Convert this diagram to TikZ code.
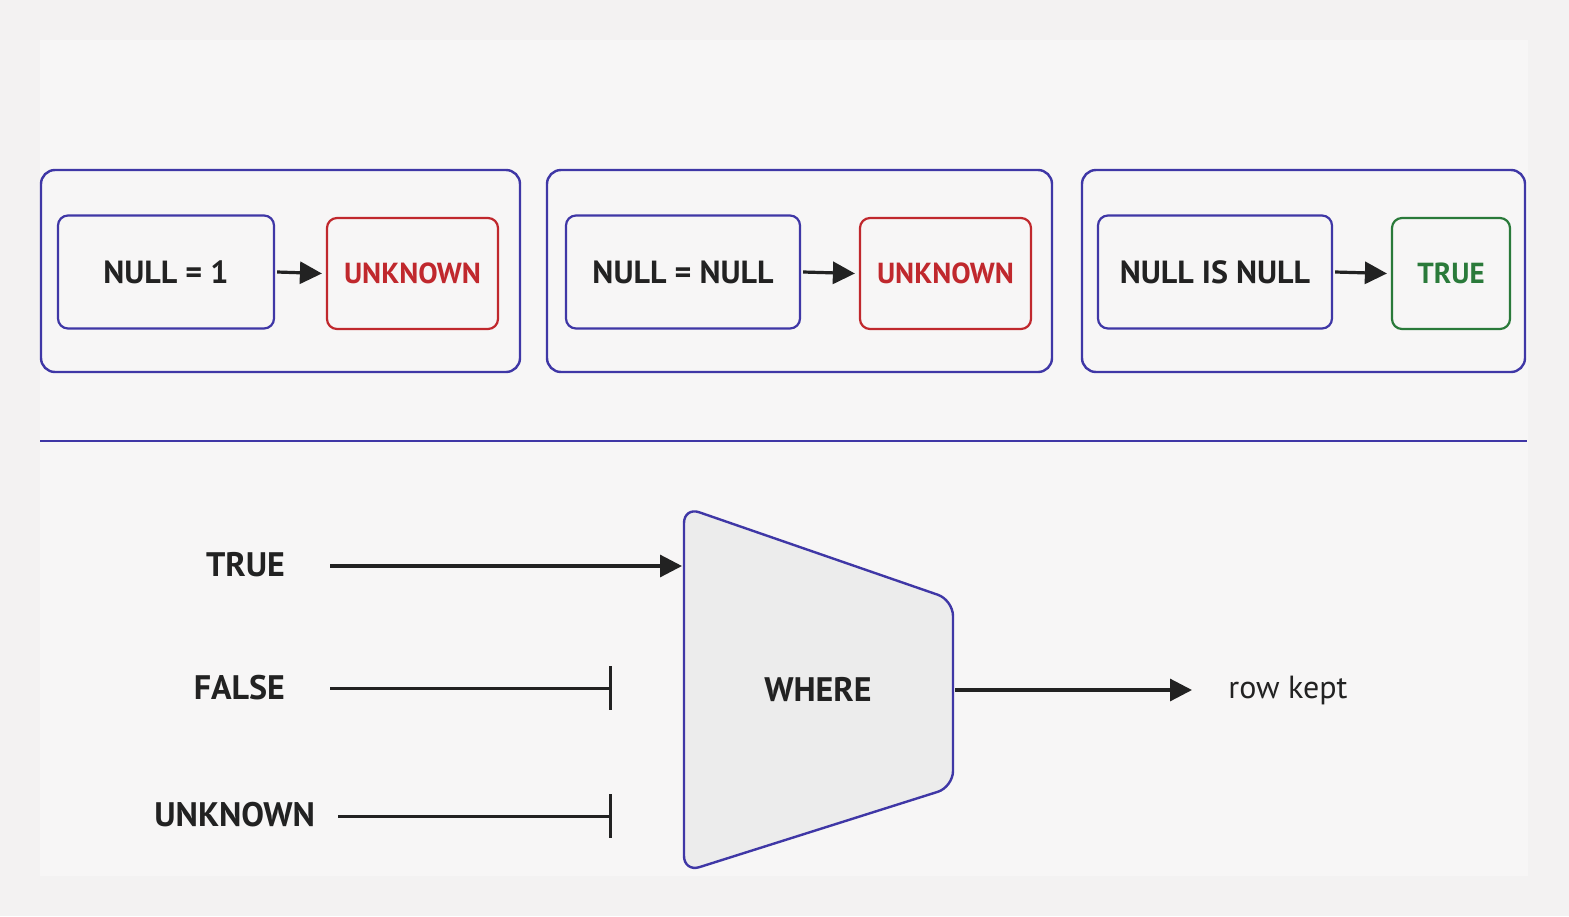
\documentclass[tikz,border=0pt]{standalone}
\usepackage{fontspec}
\setmainfont{PT Sans}
\usetikzlibrary{arrows.meta}
\definecolor{bl}{HTML}{3F37A6}
\definecolor{rd}{HTML}{C0282D}
\definecolor{gn}{HTML}{2A7A3A}
\definecolor{tx}{HTML}{222222}
\begin{document}
\begin{tikzpicture}[x=0.5pt,y=-0.5pt,
  outer/.style={draw=bl,line width=1.2pt,rounded corners=7pt},
  inb/.style={draw=bl,line width=1.1pt,rounded corners=5pt,font=\bfseries\fontsize{16}{20}\selectfont,text=tx},
  res/.style={line width=1.1pt,rounded corners=5pt,font=\bfseries\fontsize{14.5}{20}\selectfont},
  arr/.style={line width=1.6pt,draw=tx,-{Triangle[length=11pt,width=11pt]}},
  blk/.style={line width=1.5pt,draw=tx,-{Bar[width=22pt]}},
  lab/.style={font=\bfseries\fontsize{17}{20}\selectfont,text=tx,anchor=east}]
\fill[fill={rgb,255:red,243;green,242;blue,242}] (0,0) rectangle (1569,916);
\fill[fill={rgb,255:red,247;green,246;blue,246}] (40,40) rectangle (1528,876);
\useasboundingbox (0,0) rectangle (1569,916);
% groups
\draw[outer] (41,170) rectangle (520,372);
\draw[outer] (547,170) rectangle (1052,372);
\draw[outer] (1082,170) rectangle (1525,372);
\node[inb,minimum width=108pt,minimum height=56.5pt] (a1) at (166,272) {NULL = 1};
\node[res,draw=rd,text=rd,minimum width=85.5pt,minimum height=55.5pt] (b1) at (412.5,273.5) {UNKNOWN};
\node[inb,minimum width=117pt,minimum height=56.5pt] (a2) at (683,272) {NULL = NULL};
\node[res,draw=rd,text=rd,minimum width=85.5pt,minimum height=55.5pt] (b2) at (945.5,273.5) {UNKNOWN};
\node[inb,minimum width=117pt,minimum height=56.5pt] (a3) at (1215,272) {NULL IS NULL};
\node[res,draw=gn,text=gn,minimum width=59pt,minimum height=55.5pt] (b3) at (1451,273.5) {TRUE};
\draw[arr] ([xshift=1pt]a1.east) -- ([xshift=-2pt]b1.west);
\draw[arr] ([xshift=1pt]a2.east) -- ([xshift=-2pt]b2.west);
\draw[arr] ([xshift=1pt]a3.east) -- ([xshift=-2pt]b3.west);
\draw[bl,line width=1.1pt] (40,441) -- (1527,441);
% WHERE
\draw[bl,line width=1.2pt,fill={rgb,255:red,236;green,236;blue,236},rounded corners=8pt]
  (684,507) -- (953,600) -- (953,787) -- (684,872) -- cycle;
\node[font=\bfseries\fontsize{17}{20}\selectfont,text=tx] (w) at (818,690) {WHERE};
\coordinate (win) at (682,566);
\coordinate (b1e) at (612,688);
\coordinate (b2e) at (612,816);
\coordinate (wout) at (955,690);
\node[lab] (t) at (292,565) {TRUE};
\node[lab] (f) at (292,688) {FALSE};
\node[lab] (u) at (322,815) {UNKNOWN};
\node[anchor=west,font=\fontsize{16}{20}\selectfont,text=tx,inner sep=0pt] (rk) at (1228,690) {row kept};
\draw[arr] (330,566) -- (win);
\draw[blk] (330,688) -- (b1e);
\draw[blk] (338,816) -- (b2e);
\draw[arr] (wout) -- ([xshift=-18pt]rk.west);
\end{tikzpicture}
\end{document}
